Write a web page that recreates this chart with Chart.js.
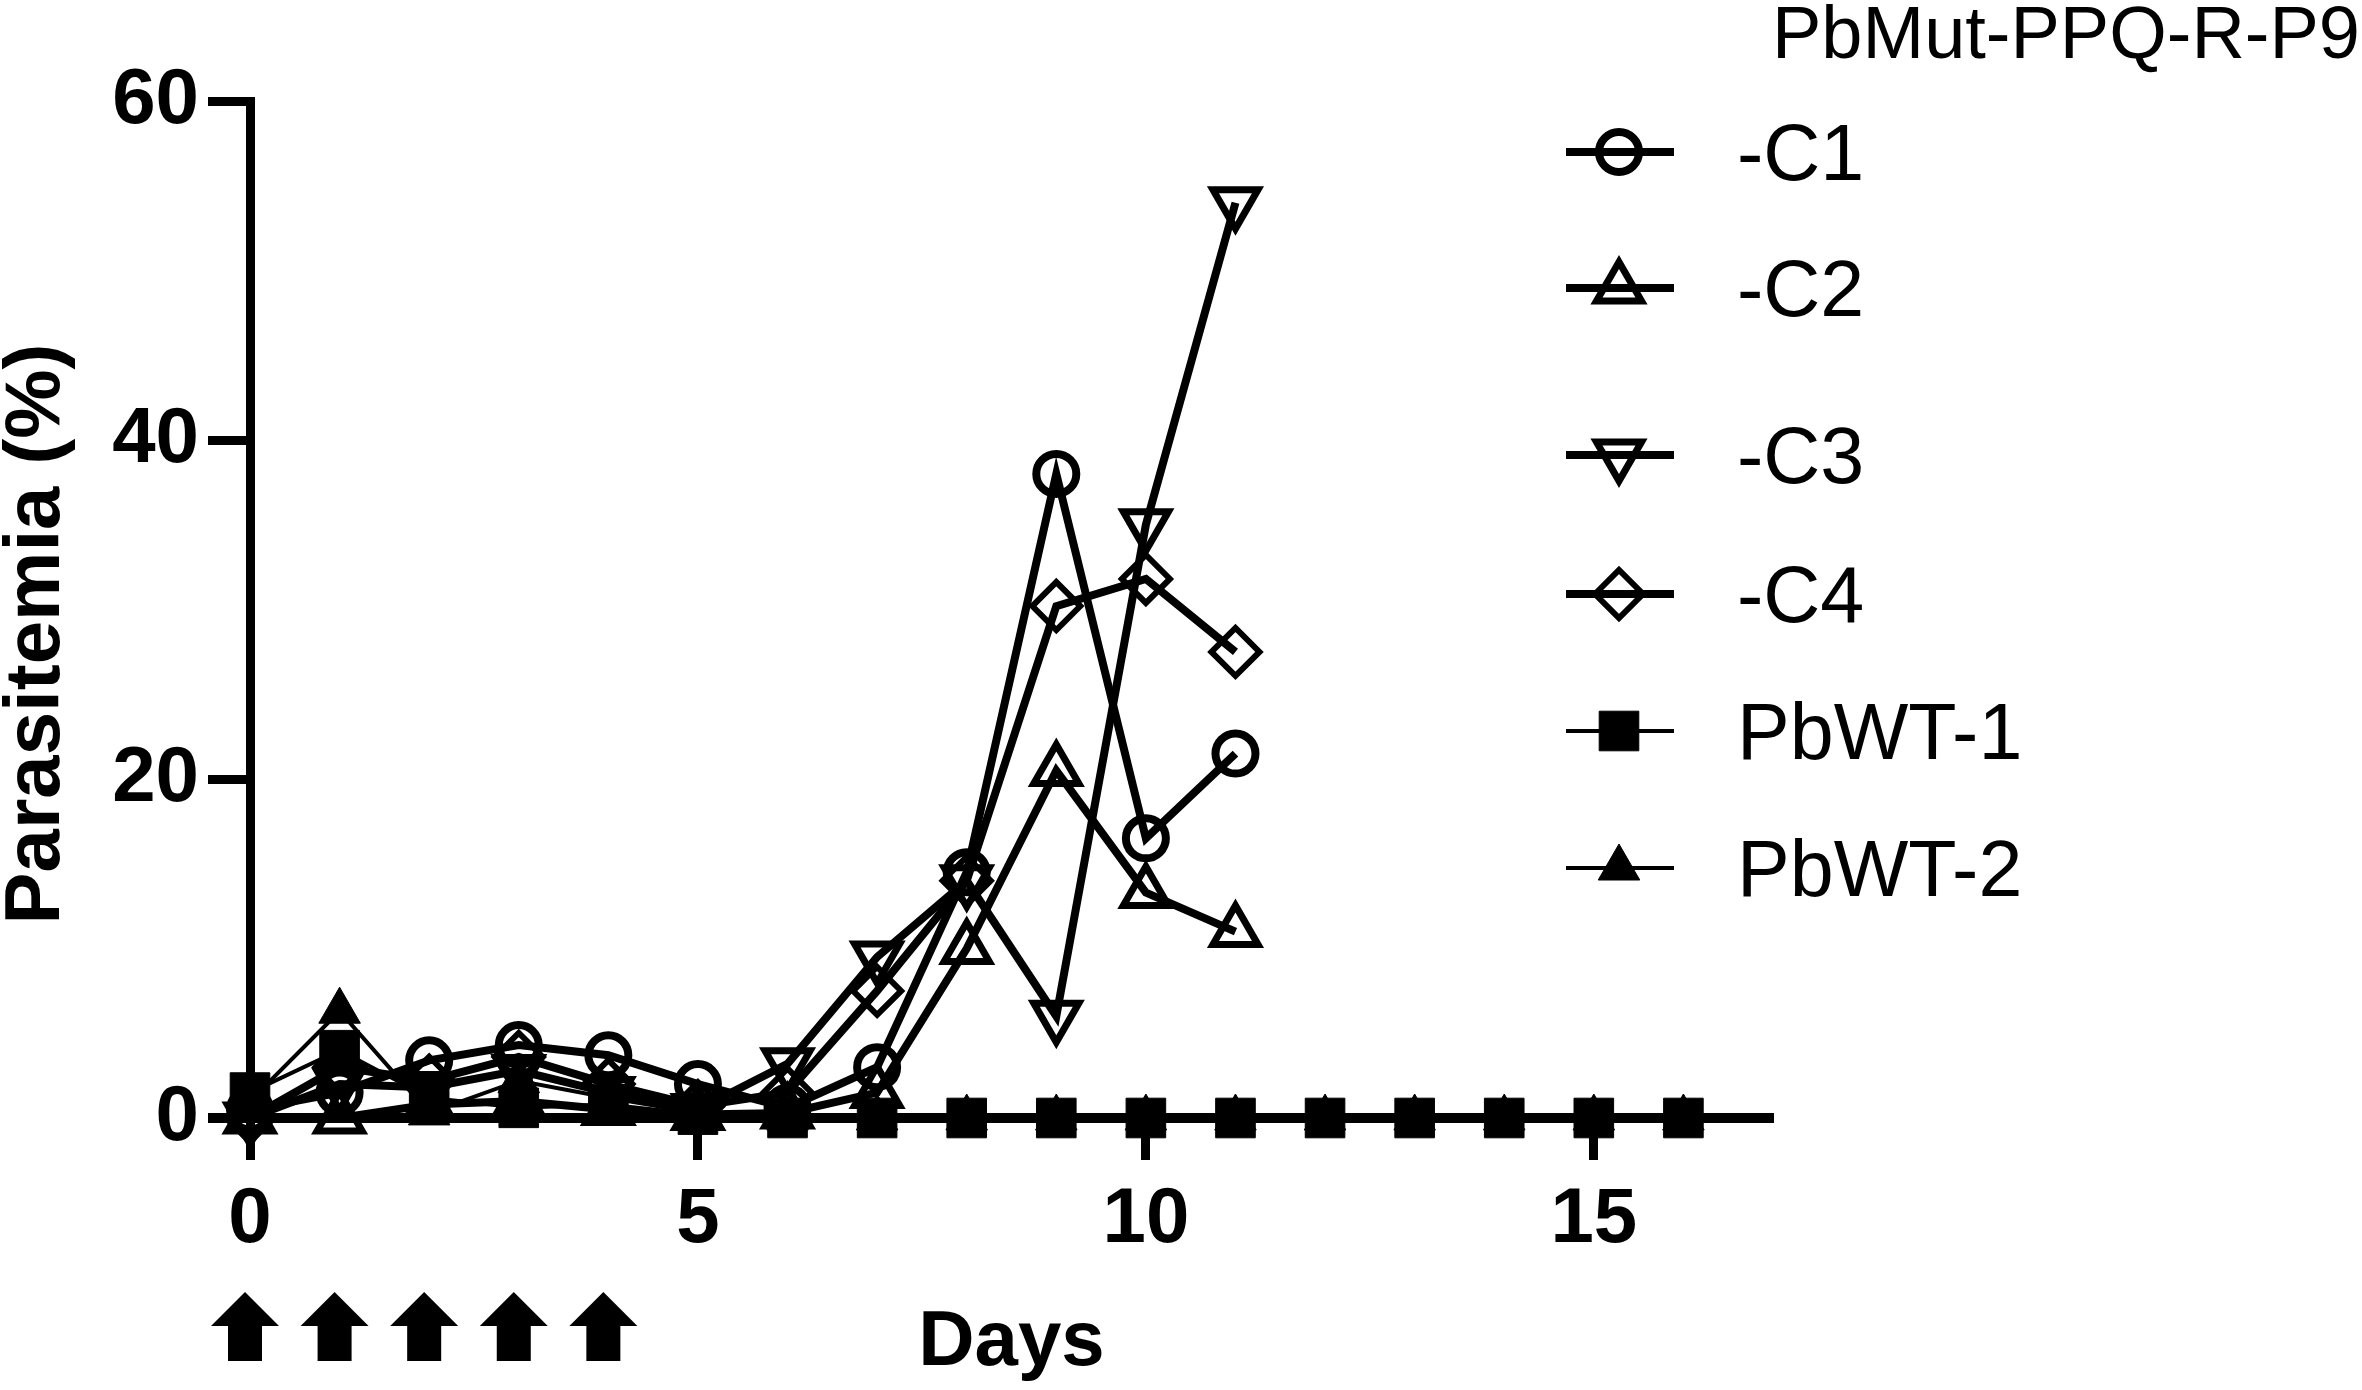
<!DOCTYPE html>
<html><head><meta charset="utf-8">
<script src="https://cdn.jsdelivr.net/npm/chart.js@4.4.1/dist/chart.umd.min.js"></script>
<style>html,body{margin:0;padding:0;background:#fff;overflow:hidden}canvas{display:block}</style>
</head><body>
<canvas id="c" width="2362" height="1390" style="width:2362px;height:1390px"></canvas>
<script>
// ---- data ----
const days = [0,1,2,3,4,5,6,7,8,9,10,11,12,13,14,15,16];
const c1  = [0.5,1.5,3.4,4.3,3.7,2.0,0.6,3.0,14.5,38.0,16.5,21.5];
const c2  = [0.0,0.0,0.8,1.0,0.5,0.2,0.3,1.5,10.0,20.5,13.3,11.0];
const c3  = [0.0,2.0,1.8,2.8,1.5,0.5,3.2,9.5,14.0,6.0,35.0,54.0];
const c4  = [0.0,3.0,2.2,3.6,2.0,0.7,1.5,7.5,14.0,30.2,31.8,27.5];
const wt1 = [1.5,4.0,1.2,0.6,0.8,0.2,0,0,0,0,0,0,0,0,0,0,0];
const wt2 = [1.0,6.3,0.3,2.2,1.2,0.3,0,0,0,0,0,0,0,0,0,0,0];
const seriesNames = ['-C1','-C2','-C3','-C4','PbWT-1','PbWT-2'];
const legendTitle = 'PbMut-PPQ-R-P9';
const xTitle = 'Days';
const yTitle = 'Parasitemia (%)';
const xTicks = [0,5,10,15];
const yTicks = [0,20,40,60];
const doseDays = [0,1,2,3,4];

const pts = arr => arr.map((v,i)=>({x:days[i], y:v}));
const FONT = '"Liberation Sans", Arial, sans-serif';

function ds(label, data, style, rot, radius, filled, lw, mbw){
  return {label, data: pts(data), borderColor:'#000', borderWidth: lw,
    pointStyle: style, pointRotation: rot, pointRadius: radius, pointHoverRadius: radius,
    pointBorderWidth: mbw, pointBorderColor:'#000',
    pointBackgroundColor: filled ? '#000' : 'rgba(0,0,0,0)',
    fill:false, tension:0, clip:false};
}
const datasets = [
  ds(seriesNames[0], c1, 'circle', 0, 20, false, 8, 8),
  ds(seriesNames[1], c2, 'triangle', 0, 26, false, 8, 7),
  ds(seriesNames[2], c3, 'triangle', 180, 26, false, 8, 7),
  ds(seriesNames[3], c4, 'rectRot', 0, 24, false, 8, 6),
  ds(seriesNames[4], wt1, 'rect', 0, 28, true, 4, 1),
  ds(seriesNames[5], wt2, 'triangle', 0, 24, true, 4, 1),
];

const extras = {
  id:'extras',
  afterDraw(chart){
    const ctx = chart.ctx, xs = chart.scales.x, ys = chart.scales.y;
    const y0 = ys.getPixelForValue(0);
    ctx.save();
    // x axis extension to the left of the y axis
    ctx.fillStyle = '#000';
    ctx.fillRect(208, y0 - 5, chart.chartArea.left - 208 + 5, 10);
    // y axis title
    ctx.save();
    ctx.translate(37, 634);
    ctx.rotate(-Math.PI / 2);
    ctx.font = 'bold 78px ' + FONT;
    ctx.textAlign = 'center';
    ctx.textBaseline = 'middle';
    ctx.fillText(yTitle, 0, 0);
    ctx.restore();
    // dosing arrows
    doseDays.forEach(d => {
      const x = xs.getPixelForValue(d) - 5;
      ctx.beginPath();
      ctx.moveTo(x, 1292);
      ctx.lineTo(x + 34, 1326);
      ctx.lineTo(x + 17, 1326);
      ctx.lineTo(x + 17, 1361);
      ctx.lineTo(x - 17, 1361);
      ctx.lineTo(x - 17, 1326);
      ctx.lineTo(x - 34, 1326);
      ctx.closePath();
      ctx.fill();
    });
    // legend
    ctx.fillStyle = '#000';
    ctx.font = '74px ' + FONT;
    ctx.textAlign = 'right';
    ctx.textBaseline = 'alphabetic';
    ctx.fillText(legendTitle, 2360, 58);
    const rows = [152, 288, 455, 594, 731, 868];
    chart.data.datasets.forEach((d, i) => {
      const y = rows[i];
      ctx.strokeStyle = '#000';
      ctx.lineWidth = d.borderWidth;
      ctx.beginPath(); ctx.moveTo(1566, y); ctx.lineTo(1674, y); ctx.stroke();
      ctx.lineWidth = d.pointBorderWidth;
      ctx.fillStyle = d.pointBackgroundColor;
      Chart.helpers.drawPoint(ctx, {pointStyle: d.pointStyle, rotation: d.pointRotation,
        radius: d.pointRadius, borderWidth: d.pointBorderWidth}, 1619, y);
      ctx.fillStyle = '#000';
      ctx.font = '79px ' + FONT;
      ctx.textAlign = 'left';
      ctx.fillText(d.label, 1737, y + 28);
    });
    ctx.restore();
  }
};

new Chart(document.getElementById('c'), {
  type:'line',
  data:{datasets},
  plugins:[extras],
  options:{
    responsive:false, animation:false, devicePixelRatio:1,
    layout:{padding:{left:0, right:589, top:101, bottom:0}},
    plugins:{legend:{display:false}, tooltip:{enabled:false}},
    scales:{
      x:{type:'linear', min:0, max:17, position:'bottom',
        afterFit(s){ s.height = 272; },
        afterBuildTicks(s){ s.ticks = xTicks.map(v=>({value:v})); },
        border:{display:true, color:'#000', width:10},
        grid:{display:true, drawOnChartArea:false, drawTicks:true, tickLength:42, tickWidth:9, tickColor:'#000'},
        ticks:{color:'#000', font:{family:FONT, size:78, weight:'bold'}, padding:14, maxRotation:0, autoSkip:false},
        title:{display:true, text:xTitle, color:'#000', font:{family:FONT, size:78, weight:'bold'}, padding:{top:0,bottom:0}}
      },
      y:{type:'linear', min:0, max:60, position:'left',
        afterFit(s){ s.width = 250; },
        afterBuildTicks(s){ s.ticks = yTicks.map(v=>({value:v})); },
        border:{display:true, color:'#000', width:9},
        grid:{display:true, drawOnChartArea:false, drawTicks:true, tickLength:42, tickWidth:9, tickColor:'#000'},
        ticks:{color:'#000', font:{family:FONT, size:78, weight:'bold'}, padding:9},
        title:{display:false}
      }
    }
  }
});
</script>
</body></html>
